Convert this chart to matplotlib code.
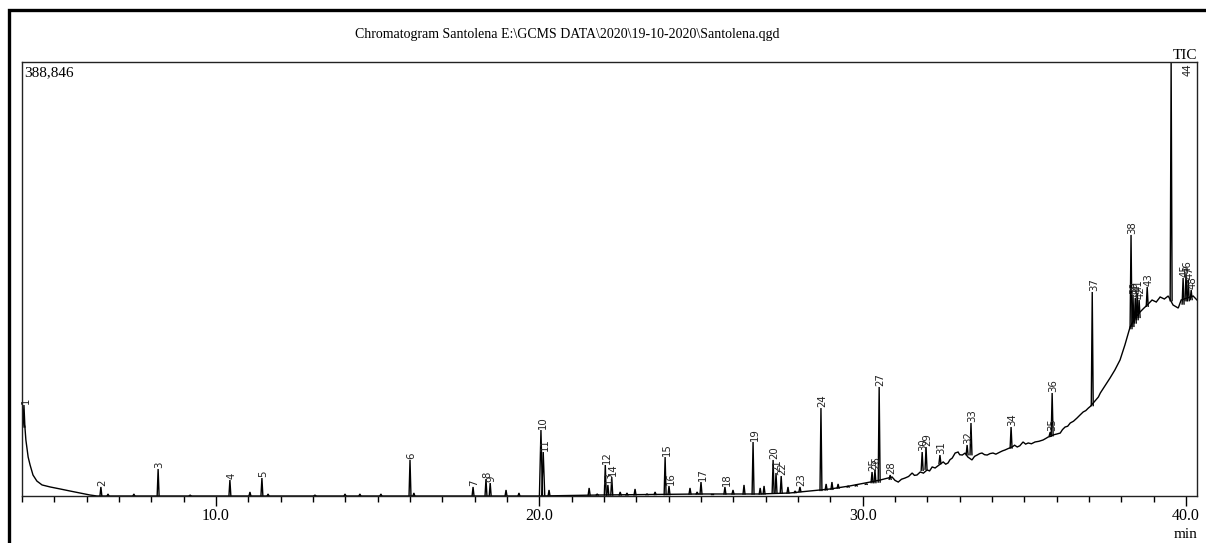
import matplotlib
matplotlib.use("Agg")
import matplotlib.pyplot as plt
from matplotlib.patches import Rectangle
from matplotlib.ticker import MultipleLocator, FormatStrFormatter

# ---------------- data ----------------
title = "Chromatogram Santolena E:\\GCMS DATA\\2020\\19-10-2020\\Santolena.qgd"
y_max = 388846
x_range = (4.0, 40.34)

# baseline / drift of the TIC trace (min, counts)
base_t = [4.03, 4.09, 4.12, 4.19, 4.25, 4.34, 4.46, 4.62, 4.87, 5.18, 5.48, 5.79, 6.10, 6.32,
          20.0, 21.9, 25.0, 26.8, 27.75, 28.37, 29.0, 29.6,
          30.23, 30.54, 30.70, 30.91, 31.00, 31.10, 31.20, 31.31, 31.42, 31.53, 31.60, 31.68,
          31.78, 31.88, 31.99, 32.07, 32.15, 32.24, 32.35, 32.49, 32.57, 32.64, 32.70, 32.77,
          32.86, 32.95, 33.00, 33.08, 33.17, 33.25, 33.38, 33.46, 33.54, 33.62, 33.69, 33.77,
          33.85, 33.94, 34.03, 34.12, 34.25, 34.33, 34.40, 34.50, 34.62, 34.70, 34.78, 34.86,
          34.96, 35.04, 35.12, 35.22, 35.33, 35.45, 35.58, 35.66, 35.74, 35.82, 35.89, 36.00,
          36.11, 36.18, 36.26, 36.34, 36.42, 36.52, 36.63, 36.72, 36.82, 36.90, 36.98, 37.05,
          37.13, 37.21, 37.29, 37.35,
          37.65, 37.80, 37.96, 38.11, 38.27, 38.42, 38.58, 38.70, 38.80, 38.95, 39.08,
          39.20, 39.33, 39.45, 39.60, 39.76, 39.85, 40.22, 40.34]
base_i = [68000, 61800, 50200, 34900, 27800, 18800, 13400, 9900, 8100, 6300, 4500, 2700, 900, 0,
          0, 900, 1800, 1800, 2700, 4500, 6300, 9000,
          12500, 14300, 15500, 17000, 14000, 12500, 15000, 16100, 17500, 20600, 18500, 18800,
          21500, 20500, 23300, 22500, 26000, 25100, 27500, 30500, 28500, 29600, 32500, 34000,
          38500, 39400, 37000, 36700, 38500, 35000, 32300, 35500, 36700, 38000, 38500, 37000,
          36700, 38000, 38500, 37500, 39400, 40500, 41200, 42500, 43900, 45500, 43900, 45000,
          48400, 46500, 47500, 46800, 48400, 49000, 50200, 51500, 52900, 53500, 54700, 55500,
          56400, 59500, 61800, 62500, 65400, 67000, 69900, 72500, 75300, 76500, 78800, 80500,
          83300, 86000, 88700, 92300,
          105700, 112900, 121900, 135300, 151400, 159500, 164900, 168400, 171100, 175600, 173800,
          178300, 176500, 179200, 171100, 168400, 175600, 179200, 175600]

# labelled peaks: retention time (min), apex (counts), base (counts)
peak_id = [str(i) for i in range(1, 49)]
peak_rt = [4.06, 6.44, 8.21, 10.43, 11.42, 16.00, 17.95, 18.35, 18.48, 20.05,
           20.12, 22.04, 22.12, 22.24, 23.89, 24.01, 25.00, 25.74, 26.61, 27.23,
           27.32, 27.48, 28.06, 28.71, 30.29, 30.38, 30.51, 30.85, 31.96, 31.84,
           32.39, 33.23, 33.35, 34.59, 35.80, 35.86, 37.10, 38.30, 38.36, 38.43,
           38.49, 38.55, 38.80, 39.54, 39.91, 40.00, 40.07, 40.16]
peak_top = [81500, 8100, 24200, 14300, 16100, 32300, 8100, 15200, 11600, 59100,
            39400, 27800, 9900, 17000, 34900, 9000, 12500, 8100, 48400, 32300,
            20600, 17900, 8100, 78800, 21500, 23300, 97700, 18800, 43900, 39400,
            36700, 45700, 65400, 61800, 57300, 92300, 182800, 233900, 180100, 177400,
            181900, 175600, 187300, 388846, 195300, 198900, 193500, 184600]
peak_base = [61800, 0, 0, 0, 0, 0, 0, 0, 0, 0,
             0, 900, 900, 900, 1200, 1200, 1800, 1800, 1800, 2700,
             2700, 2700, 4000, 5000, 12000, 12000, 12500, 15000, 24000, 23000,
             29000, 37000, 37000, 43000, 54000, 54000, 81000, 150000, 152000, 155000,
             158000, 160000, 170000, 175000, 172000, 175000, 175000, 176000]

# small unlabelled peaks (noise)
minor_rt = [6.66, 7.46, 9.20, 11.05, 11.61, 13.06, 13.99, 14.45, 15.10, 16.12,
            18.97, 19.37, 20.30, 21.54, 21.79, 22.50, 22.71, 22.96, 23.33, 23.58,
            24.66, 24.88, 25.34, 25.99, 26.33, 26.83, 26.95, 27.69, 27.91, 28.87,
            29.05, 29.24, 29.55, 29.80, 30.11]
minor_top = [1800, 1800, 900, 3600, 1800, 900, 1800, 1800, 1800, 2700,
             5400, 2700, 5400, 7200, 1800, 3600, 2700, 6300, 1800, 3600,
             7200, 3600, 1800, 5400, 9900, 7200, 9000, 8100, 4500, 10800,
             12500, 10800, 9000, 9900, 10800]
minor_base = [0, 0, 0, 0, 0, 0, 0, 0, 0, 0,
              0, 0, 0, 900, 900, 900, 900, 1000, 1200, 1300,
              1800, 1800, 1800, 1800, 1800, 1800, 1800, 2700, 3000, 5400,
              6000, 7000, 8000, 9000, 10500]

# ---------------- figure ----------------
W, H = 1206, 543
fig = plt.figure(figsize=(W / 100, H / 100), dpi=100)
fig.patch.set_facecolor("white")

# thick outer frame (cut at right / bottom like the scan)
fig.add_artist(Rectangle((8.5 / W, -0.2), 1.3, 1.2 - 9.5 / H, transform=fig.transFigure,
                         fill=False, lw=2.4, ec="black"))

ax = fig.add_axes([22 / W, 1 - 496 / H, 1175 / W, 434 / H])
ax.set_xlim(*x_range)
ax.set_ylim(0, y_max)

line_kw = dict(color="black", lw=1.0, solid_joinstyle="miter")
ax.plot(base_t, base_i, **line_kw)

hw = 0.03
for rt, top, b in zip(minor_rt, minor_top, minor_base):
    ax.plot([rt - hw, rt, rt + hw], [b, top, b], **line_kw)

for pid, rt, top, b in zip(peak_id, peak_rt, peak_top, peak_base):
    w = hw * (1.6 if pid in ("10", "11") else 1.0)
    ax.plot([rt - w, rt, rt + w], [b, top, b], **line_kw)
    if top >= y_max:
        ax.annotate(pid, (rt, top), xytext=(16, -1), textcoords="offset pixels",
                    rotation=90, ha="center", va="top", fontsize=7.3,
                    family="DejaVu Sans", color="#222222")
    else:
        ax.annotate(pid, (rt, top), xytext=(1.5, 1), textcoords="offset pixels",
                    rotation=90, ha="center", va="bottom", fontsize=7.3,
                    family="DejaVu Sans", color="#222222")

for s in ax.spines.values():
    s.set_linewidth(1.0)
    s.set_color("#222222")

ax.set_yticks([])
ax.xaxis.set_major_locator(MultipleLocator(10))
ax.xaxis.set_minor_locator(MultipleLocator(1))
ax.xaxis.set_major_formatter(FormatStrFormatter("%.1f"))
ax.tick_params(axis="x", which="major", direction="out", length=7.5, width=1.0,
               pad=1.5, labelsize=11.5)
ax.tick_params(axis="x", which="minor", direction="out", length=4.5, width=1.0)
for lab in ax.get_xticklabels():
    lab.set_family("Liberation Serif")

ax.text(0.002, 0.99, "388,846", transform=ax.transAxes, ha="left", va="top",
        fontsize=11, family="Liberation Serif")

fig.text(567 / W, 1 - 34 / H, title, ha="center", va="center",
         fontsize=10, family="Liberation Serif")
fig.text(1197 / W, 1 - 59 / H, "TIC", ha="right", va="baseline",
         fontsize=11, family="Liberation Serif")
fig.text(1198 / W, 1 - 538 / H, "min", ha="right", va="baseline",
         fontsize=11, family="Liberation Serif")

fig.savefig("out.png", dpi=100, facecolor="white")
